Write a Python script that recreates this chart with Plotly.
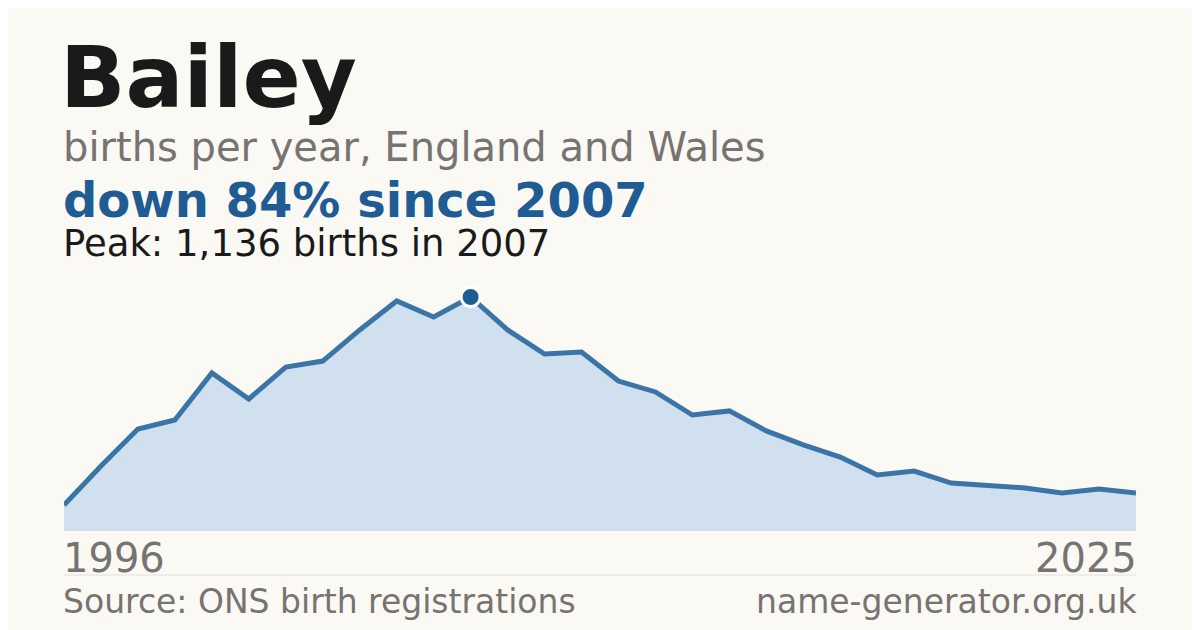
import plotly.graph_objects as go

years = list(range(1996, 2026))
births = [126, 316, 495, 539, 767, 641, 796, 825, 976, 1117, 1039, 1136, 976, 859, 869,
          728, 675, 563, 583, 486, 418, 359, 272, 291, 233, 223, 209, 184, 204, 184]
peak_year = 2007
peak_value = 1136

F = "DejaVu Sans"
fig = go.Figure()
fig.add_trace(go.Scatter(x=years, y=births, mode="lines", fill="tozeroy",
                         fillcolor="#d0e0ef", line=dict(color="#3b74a6", width=5),
                         hoverinfo="skip"))
fig.add_trace(go.Scatter(x=[peak_year], y=[peak_value], mode="markers",
                         marker=dict(size=19, color="#1f5c94", line=dict(color="white", width=3)),
                         hoverinfo="skip"))

def ann(text, x, y, size, color, xanchor="left", bold=False):
    fig.add_annotation(text=f"<b>{text}</b>" if bold else text, x=x, y=y, xref="paper", yref="paper",
                       xanchor=xanchor, yanchor="middle", showarrow=False,
                       font=dict(family=F, size=size, color=color))

ann("Bailey", -0.006, 1.815, 86, "#1a1a1a", bold=True)
ann("births per year, England and Wales", -0.003, 1.536, 40, "#777370")
ann("down 84% since 2007", -0.003, 1.324, 48, "#1f5c94", bold=True)
ann("Peak: 1,136 births in 2007", -0.003, 1.152, 37, "#1a1a1a")
ann("1996", -0.003, -0.108, 40, "#777370")
ann("2025", 1.003, -0.108, 40, "#777370", xanchor="right")
ann("Source: ONS birth registrations", -0.003, -0.28, 33, "#777370")
ann("name-generator.org.uk", 1.003, -0.28, 33, "#777370", xanchor="right")

fig.add_shape(type="line", xref="paper", yref="paper", x0=0, x1=1, y0=-0.176, y1=-0.176,
              line=dict(color="#e2e0da", width=1))

fig.update_layout(width=1200, height=630, margin=dict(l=56, r=72, t=273, b=107),
                  paper_bgcolor="#faf9f4", plot_bgcolor="#faf9f4", showlegend=False,
                  xaxis=dict(range=[1996, 2025], visible=False),
                  yaxis=dict(range=[0, 1136 * 250 / 234], visible=False))
fig.write_html("out.html")
